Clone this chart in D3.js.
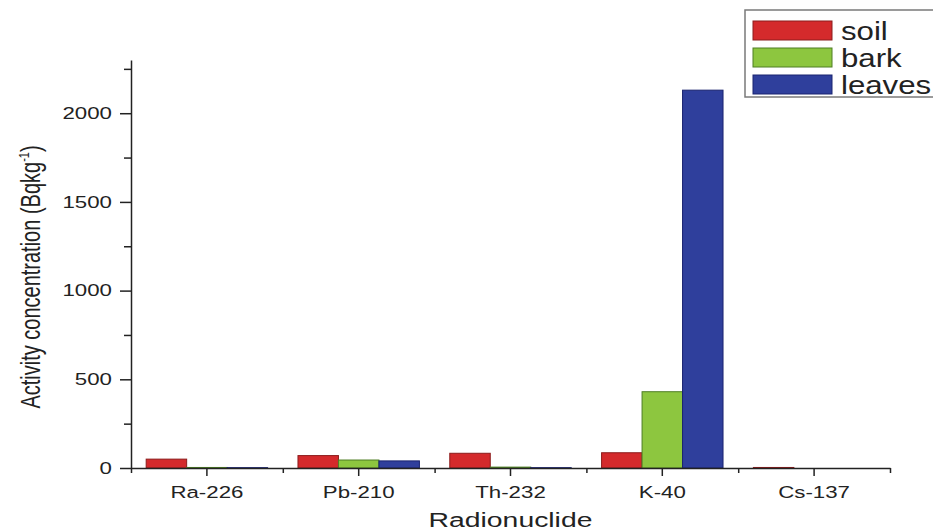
<!DOCTYPE html>
<html>
<head>
<meta charset="utf-8">
<script src="https://cdn.jsdelivr.net/npm/d3@7"></script>
<style>
  body { margin: 0; background: #fff; }
  text { font-family: "Liberation Sans", Arial, sans-serif; fill: #222; }
</style>
</head>
<body>
<div id="chart"></div>
<script>
// values
var categories = ["Ra-226", "Pb-210", "Th-232", "K-40", "Cs-137"]
var seriesNames = ["soil", "bark", "leaves"]
var soil = [50, 70, 83, 86, 3]
var bark = [3, 45, 5, 430, 0]
var leaves = [2, 40, 2, 2130, 0]
var yMajorTicks = [0, 500, 1000, 1500, 2000]
var yMinorTicks = [250, 750, 1250, 1750, 2250]

var seriesValues = [soil, bark, leaves]
var fills = ["#d42a2c", "#8dc63f", "#2f3f9c"]
var strokes = ["#8c1c1c", "#4e7e24", "#1a2470"]
var stretch = 1.35   // the original image is squeezed wider than tall

var width = 933, height = 532
var margin = {top: 60, right: 43, bottom: 64, left: 131}
var innerW = width - margin.left - margin.right,
    innerH = height - margin.top - margin.bottom

var svg = d3.select("#chart").append("svg")
  .attr("width", width)
  .attr("height", height)

var features = svg.append("g")
  .attr("transform", "translate(" + margin.left + "," + margin.top + ")")

var x = d3.scaleBand()
  .domain(categories)
  .range([0, innerW])
  .padding(0)

var xSub = d3.scaleBand()
  .domain(seriesNames)
  .range([x.bandwidth() * 0.1, x.bandwidth() * 0.9])

var xEdge = d3.scaleLinear()
  .domain([0, categories.length])
  .range([0, innerW])

var y = d3.scaleLinear()
  .domain([0, 2300])
  .range([innerH, 0])

// bars
var groups = features.selectAll("g.cat")
  .data(categories)
  .enter().append("g")
  .attr("class", "cat")
  .attr("transform", function(d) { return "translate(" + x(d) + ",0)" })

groups.selectAll("rect")
  .data(function(d, i) {
    return seriesNames.map(function(s, j) { return {s: s, j: j, v: seriesValues[j][i]} })
  })
  .enter().append("rect")
  .attr("x", function(d) { return xSub(d.s) })
  .attr("width", xSub.bandwidth())
  .attr("y", function(d) { return y(d.v) })
  .attr("height", function(d) { return y(0) - y(d.v) })
  .attr("fill", function(d) { return fills[d.j] })
  .attr("stroke", function(d) { return strokes[d.j] })
  .attr("stroke-width", 1)

// x axis: minor ticks at band edges, major at centres
features.append("g")
  .attr("transform", "translate(0," + innerH + ")")
  .call(d3.axisBottom(xEdge).tickValues(d3.range(categories.length + 1)).tickSize(5).tickFormat(""))
  .call(function(g) { g.select(".domain").remove() })

var xAxisG = features.append("g")
  .attr("class", "x axis")
  .attr("transform", "translate(0," + innerH + ")")
  .call(d3.axisBottom(x).tickSize(8).tickPadding(10).tickSizeOuter(0))

xAxisG.selectAll("text")
  .attr("font-size", 16.5)
  .attr("transform", "scale(" + stretch + ",1)")

// y axis
features.append("g")
  .call(d3.axisLeft(y).tickValues(yMinorTicks).tickSize(7).tickFormat(""))
  .call(function(g) { g.select(".domain").remove() })

var yAxisG = features.append("g")
  .attr("class", "y axis")
  .call(d3.axisLeft(y).tickValues(yMajorTicks).tickSize(11).tickSizeOuter(0).tickFormat(d3.format("d")))

yAxisG.selectAll("text")
  .attr("font-size", 16.5)
  .attr("x", -19 / stretch)
  .attr("transform", "scale(" + stretch + ",1)")

features.selectAll(".domain, .tick line")
  .attr("stroke", "#222")
  .attr("stroke-width", 1.5)

// axis titles
svg.append("text")
  .attr("transform", "translate(" + (margin.left + innerW / 2) + ",527) scale(" + stretch + ",1)")
  .attr("text-anchor", "middle")
  .attr("font-size", 21)
  .text("Radionuclide")

var yTitle = svg.append("text")
  .attr("transform", "translate(40,277) rotate(-90) scale(1," + stretch + ")")
  .attr("text-anchor", "middle")
  .attr("font-size", 20)
yTitle.append("tspan").text("Activity concentration (Bqkg")
yTitle.append("tspan").attr("dy", -8).attr("font-size", 11).text("-1")
yTitle.append("tspan").attr("dy", 8).text(")")

// legend
var legend = svg.append("g").attr("transform", "translate(745,10)")

legend.append("rect")
  .attr("width", 210)
  .attr("height", 87)
  .attr("fill", "#fff")
  .attr("stroke", "#7a7a7a")
  .attr("stroke-width", 1.5)

var items = legend.selectAll("g.item")
  .data(seriesNames)
  .enter().append("g")
  .attr("class", "item")
  .attr("transform", function(d, i) { return "translate(8," + (11 + i * 27) + ")" })

items.append("rect")
  .attr("width", 79)
  .attr("height", 19)
  .attr("fill", function(d, i) { return fills[i] })
  .attr("stroke", function(d, i) { return strokes[i] })
  .attr("stroke-width", 1)

items.append("text")
  .attr("transform", "translate(88,19) scale(1.2,1)")
  .attr("font-size", 26)
  .text(function(d) { return d })
</script>
</body>
</html>
